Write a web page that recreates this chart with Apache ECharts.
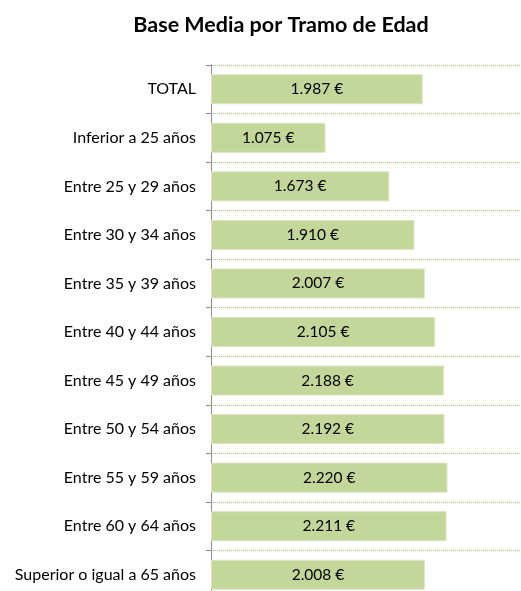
<!DOCTYPE html>
<html>
<head>
<meta charset="utf-8">
<script src="https://cdn.jsdelivr.net/npm/echarts@6/dist/echarts.min.js"></script>
<style>
  html, body { margin: 0; padding: 0; background: #fff; }
  #chart { width: 521px; height: 591px; }
</style>
</head>
<body>
<div id="chart"></div>
<script>
/* Base media por tramo de edad */
var categorias = ['TOTAL', 'Inferior a 25 años', 'Entre 25 y 29 años', 'Entre 30 y 34 años',
    'Entre 35 y 39 años', 'Entre 40 y 44 años', 'Entre 45 y 49 años', 'Entre 50 y 54 años',
    'Entre 55 y 59 años', 'Entre 60 y 64 años', 'Superior o igual a 65 años'];
var baseMedia = [1987, 1075, 1673, 1910, 2007, 2105, 2188, 2192, 2220, 2211, 2008];
var xMax = 2900;

function formatoEuro(v) {
    var s = String(v);
    return s.replace(/\B(?=(\d{3})+(?!\d))/g, '.') + ' €';
}

var chart = echarts.init(document.getElementById('chart'));
chart.setOption({
    animation: false,
    textStyle: { fontFamily: 'Lato' },
    title: {
        text: 'Base Media por Tramo de Edad',
        left: 276,
        textAlign: 'center',
        top: 9,
        textStyle: { fontFamily: 'Lato', fontWeight: 'bold', fontSize: 21.5, color: '#000' }
    },
    grid: {
        left: 211, right: 1, top: 65, bottom: -8,
        outerBoundsMode: 'none'
    },
    xAxis: {
        type: 'value',
        min: 0,
        max: xMax,
        show: false
    },
    yAxis: {
        type: 'category',
        inverse: true,
        data: categorias,
        axisLine: { show: true, lineStyle: { color: '#8c8c8c', width: 1 } },
        axisTick: { show: true, length: 5, lineStyle: { color: '#8c8c8c' } },
        axisLabel: { margin: 15, fontSize: 16, color: '#000', fontFamily: 'Lato' },
        splitLine: { show: true, lineStyle: { color: '#c2ad74', type: 'dotted', width: 1 } }
    },
    series: [{
        type: 'bar',
        data: baseMedia,
        barCategoryGap: '38%',
        itemStyle: { color: '#c4d79b', borderColor: '#dbe7c2', borderWidth: 1 },
        label: {
            show: true,
            position: 'inside',
            fontSize: 15.5,
            color: '#000',
            fontFamily: 'Lato',
            formatter: function (p) { return formatoEuro(p.value); }
        }
    }]
});
</script>
</body>
</html>
